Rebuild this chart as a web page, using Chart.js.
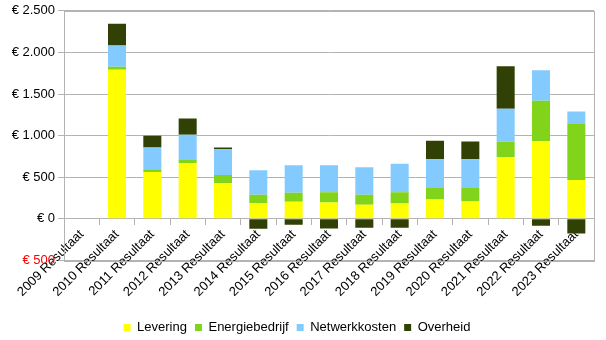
<!DOCTYPE html>
<html>
<head>
<meta charset="utf-8">
<script src="https://cdn.jsdelivr.net/npm/chart.js@4.4.1/dist/chart.umd.min.js"></script>
<style>
  html, body { margin: 0; padding: 0; background: #fff; }
  #wrap { width: 606px; height: 340px; }
</style>
</head>
<body>
<div id="wrap"><canvas id="myChart" width="606" height="340"></canvas></div>
<script>
// Jaren op de categorie-as
const jaren = ['2009 Resultaat', '2010 Resultaat', '2011 Resultaat', '2012 Resultaat', '2013 Resultaat',
  '2014 Resultaat', '2015 Resultaat', '2016 Resultaat', '2017 Resultaat', '2018 Resultaat',
  '2019 Resultaat', '2020 Resultaat', '2021 Resultaat', '2022 Resultaat', '2023 Resultaat'];

// Kostenposten per jaar (euro)
const levering       = [0, 1790, 563, 671, 426, 189, 205, 197, 169, 185, 233, 209, 744, 933, 466];
const energiebedrijf = [0, 39, 32, 36, 101, 100, 109, 121, 120, 133, 137, 161, 181, 486, 672];
const netwerkkosten  = [0, 253, 261, 302, 313, 294, 329, 325, 330, 345, 346, 346, 398, 366, 152];
const overheid       = [0, 262, 141, 197, 16, -121, -72, -117, -109, -109, 221, 213, 510, -84, -177];

// Y-as bereik en stap
const yMin = -500;
const yMax = 2500;
const yStap = 500;

const gridKleur = '#b3b3b3';
const font = { family: '"Liberation Sans", Arial, sans-serif', size: 13 };

// Kader om het plotgebied (rechterrand ontbreekt anders)
const kader = {
  id: 'kader',
  afterDraw(chart) {
    const { ctx, chartArea } = chart;
    ctx.save();
    ctx.strokeStyle = gridKleur;
    ctx.lineWidth = 1;
    ctx.strokeRect(Math.round(chartArea.left) + 0.5, Math.round(chartArea.top) + 0.5,
      Math.round(chartArea.right - chartArea.left), Math.round(chartArea.bottom - chartArea.top));
    ctx.restore();
  }
};

// Negatieve bedragen zonder minteken, wel in rood
const euro = v => '€ ' + Math.abs(v).toLocaleString('nl-NL');

const data = {
  labels: jaren,
  datasets: [
    { label: 'Levering', data: levering, backgroundColor: '#ffff00' },
    { label: 'Energiebedrijf', data: energiebedrijf, backgroundColor: '#81d41a' },
    { label: 'Netwerkkosten', data: netwerkkosten, backgroundColor: '#83caff' },
    { label: 'Overheid', data: overheid, backgroundColor: '#314004' }
  ]
};

const config = {
  type: 'bar',
  data: data,
  options: {
    responsive: false,
    animation: false,
    datasets: { bar: { categoryPercentage: 1, barPercentage: 0.51, borderWidth: 0 } },
    layout: { padding: { left: 0, right: 12, top: 5, bottom: -4 } },
    plugins: {
      legend: {
        position: 'bottom',
        // lege titel als ruimte tussen de aslabels en de legenda
        title: { display: true, text: ' ', padding: { top: 37, bottom: 0 }, font: font },
        labels: { boxWidth: 7, boxHeight: 7, padding: 8, color: '#000', font: font }
      },
      tooltip: { enabled: false }
    },
    scales: {
      x: {
        stacked: true,
        position: { y: 0 },  // categorie-as op de nullijn
        grid: { offset: true, drawOnChartArea: false, color: gridKleur, tickLength: 6 },
        border: { color: gridKleur },
        ticks: { minRotation: 45, maxRotation: 45, autoSkip: false, padding: 2, color: '#000', font: font }
      },
      y: {
        stacked: true,
        min: yMin,
        max: yMax,
        grid: { color: gridKleur, tickLength: 6 },
        border: { color: gridKleur },
        ticks: {
          stepSize: yStap,
          padding: 3,
          font: font,
          color: ctx => ctx.tick && ctx.tick.value < 0 ? '#ff0000' : '#000',
          callback: v => euro(v)
        },
        afterFit: scale => { scale.width = 64; }
      }
    }
  },
  plugins: [kader]
};

new Chart(document.getElementById('myChart'), config);
</script>
</body>
</html>
